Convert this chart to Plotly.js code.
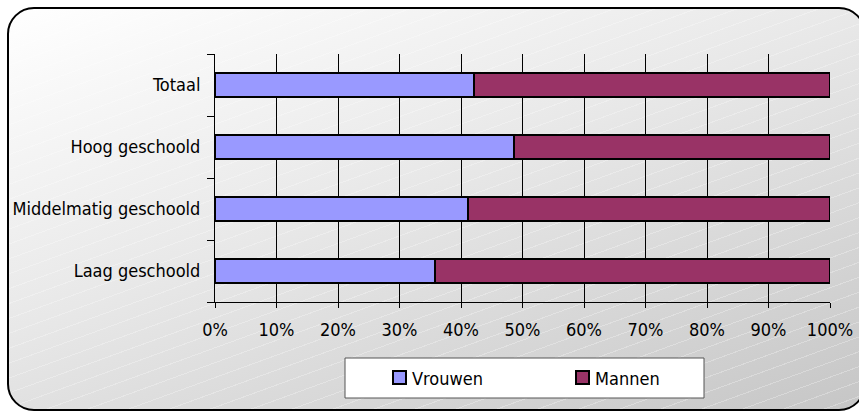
<!DOCTYPE html>
<html>
<head>
<meta charset="utf-8">
<script src="https://cdn.plot.ly/plotly-3.0.1.min.js"></script>
<style>
  html, body { margin: 0; padding: 0; width: 859px; height: 412px; overflow: hidden; background: #ffffff; }
  #frame {
    position: absolute; left: 7px; top: 7px; width: 855px; height: 400px;
    border: 2px solid #000; border-radius: 27px;
    background:
      repeating-linear-gradient(-20deg, rgba(255,255,255,0) 0px, rgba(255,255,255,0) 13px, rgba(255,255,255,0.28) 13px, rgba(255,255,255,0.28) 14px),
      linear-gradient(160deg, #ffffff 0%, #e8e8e8 45%, #c6c6c6 100%);
  }
  #chart { position: absolute; left: 0; top: 0; width: 859px; height: 412px; }
</style>
</head>
<body>
<div id="frame"></div>
<div id="chart"></div>
<script>
var categories = ["Laag geschoold", "Middelmatig geschoold", "Hoog geschoold", "Totaal"];
var vrouwen = [0.358, 0.411, 0.486, 0.421];
var mannen  = [0.642, 0.589, 0.514, 0.579];
var seriesNames = ["Vrouwen", "Mannen"];
var seriesColors = ["#9999FF", "#993366"];

var font = { family: "DejaVu Sans Condensed, DejaVu Sans, sans-serif", size: 18, color: "#000" };

var traces = [vrouwen, mannen].map(function (vals, i) {
  return {
    type: "bar", orientation: "h",
    x: vals, y: categories, name: seriesNames[i],
    marker: { color: seriesColors[i], line: { color: "#000", width: 2 } },
    hoverinfo: "x+name"
  };
});

// plot area in pixels: x 215..830, y 54..302
var L = 215, R = 830, T = 54, B = 302;
function px(x) { return (x - L) / (R - L); }
function py(y) { return (B - y) / (B - T); }

var shapes = [{
  type: "rect", xref: "paper", yref: "paper",
  x0: px(345), x1: px(704), y0: py(358), y1: py(398),
  fillcolor: "#ffffff", line: { color: "#555", width: 1 }
}];
var annotations = [];
var legendSymX = [393, 576];
seriesNames.forEach(function (name, i) {
  var sx = legendSymX[i];
  shapes.push({
    type: "rect", xref: "paper", yref: "paper",
    x0: px(sx), x1: px(sx + 13), y0: py(371), y1: py(384),
    fillcolor: seriesColors[i], line: { color: "#000", width: 2 }
  });
  annotations.push({
    xref: "paper", yref: "paper", x: px(sx + 17), y: py(378),
    xanchor: "left", yanchor: "middle", text: name, showarrow: false, font: font
  });
});

var layout = {
  width: 859, height: 412,
  paper_bgcolor: "rgba(0,0,0,0)", plot_bgcolor: "rgba(0,0,0,0)",
  margin: { l: L, r: 859 - R, t: T, b: 412 - B },
  barmode: "stack", bargap: 0.613,
  font: font,
  showlegend: false,
  shapes: shapes,
  annotations: annotations,
  xaxis: {
    range: [0, 1], dtick: 0.1, tick0: 0, tickformat: ".0%",
    showgrid: true, gridcolor: "#000", gridwidth: 1,
    showline: true, linecolor: "#000", linewidth: 1,
    ticks: "outside", ticklen: 5, tickcolor: "#000", ticklabelstandoff: 6,
    zeroline: false, fixedrange: true, tickfont: font
  },
  yaxis: {
    type: "category", categoryorder: "array", categoryarray: categories,
    showline: true, linecolor: "#000", linewidth: 1,
    ticks: "outside", ticklen: 7, tickcolor: "#000", tickson: "boundaries",
    ticklabelstandoff: 10,
    showgrid: false, fixedrange: true, tickfont: font
  }
};

Plotly.newPlot("chart", traces, layout, { displayModeBar: false, staticPlot: true });
</script>
</body>
</html>
